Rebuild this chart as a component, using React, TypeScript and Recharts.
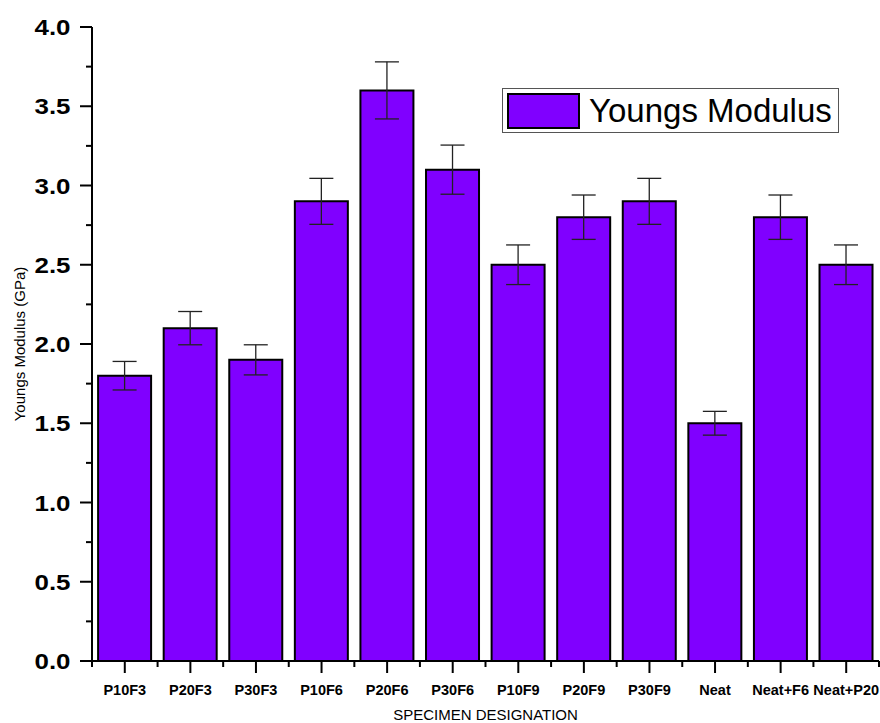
import { BarChart, Bar, XAxis, YAxis, ErrorBar, Legend } from "recharts";

const categories = [
  "P10F3",
  "P20F3",
  "P30F3",
  "P10F6",
  "P20F6",
  "P30F6",
  "P10F9",
  "P20F9",
  "P30F9",
  "Neat",
  "Neat+F6",
  "Neat+P20",
];
const modulus = [1.8, 2.1, 1.9, 2.9, 3.6, 3.1, 2.5, 2.8, 2.9, 1.5, 2.8, 2.5];
const modulusErr = [0.09, 0.105, 0.095, 0.145, 0.18, 0.155, 0.125, 0.14, 0.145, 0.075, 0.14, 0.125];
const yTicks = [0, 0.25, 0.5, 0.75, 1, 1.25, 1.5, 1.75, 2, 2.25, 2.5, 2.75, 3, 3.25, 3.5, 3.75, 4];

const data = categories.map((name, i) => ({
  name,
  value: modulus[i],
  err: modulusErr[i],
}));

const W = 880;
const H = 723;
const LEFT = 92;
const RIGHT = 1;
const BAND = (W - LEFT - RIGHT) / categories.length;
const FONT = "'Liberation Sans', Arial, Helvetica, sans-serif";
const PURPLE = "#8000FF";

function YTick(props: any) {
  const { x, y, payload } = props;
  const major = Math.abs(payload.value * 2 - Math.round(payload.value * 2)) < 1e-6;
  const axisX = x + 21;
  return (
    <g>
      <line x1={axisX - (major ? 12 : 6)} x2={axisX} y1={y} y2={y} stroke="#000" strokeWidth={2} />
      {major && (
        <text
          x={x - 0.5}
          y={y + 8}
          textAnchor="end"
          fontFamily={FONT}
          fontWeight="bold"
          fontSize={22}
          textLength={36}
          lengthAdjust="spacingAndGlyphs"
          fill="#000"
        >
          {payload.value.toFixed(1)}
        </text>
      )}
    </g>
  );
}

function XTick(props: any) {
  const { x, y, payload, index } = props;
  const axisY = y - 21;
  return (
    <g>
      <line x1={x} x2={x} y1={axisY} y2={axisY + 12} stroke="#000" strokeWidth={2} />
      <line x1={x - BAND / 2} x2={x - BAND / 2} y1={axisY} y2={axisY + 6} stroke="#000" strokeWidth={2} />
      {index === categories.length - 1 && (
        <line x1={x + BAND / 2} x2={x + BAND / 2} y1={axisY} y2={axisY + 6} stroke="#000" strokeWidth={2} />
      )}
      <text
        x={x}
        y={y + 13}
        textAnchor="middle"
        fontFamily={FONT}
        fontWeight="bold"
        fontSize={14.5}
        fill="#000"
      >
        {payload.value}
      </text>
    </g>
  );
}

function YTitle(props: any) {
  const { viewBox } = props;
  const cy = viewBox.y + viewBox.height / 2;
  return (
    <text
      x={25}
      y={cy}
      transform={`rotate(-90, 25, ${cy})`}
      textAnchor="middle"
      fontFamily={FONT}
      fontSize={15}
      fill="#000"
    >
      Youngs Modulus (GPa)
    </text>
  );
}

function XTitle(props: any) {
  const { viewBox } = props;
  return (
    <text
      x={viewBox.x + viewBox.width / 2}
      y={viewBox.y + viewBox.height - 3}
      textAnchor="middle"
      fontFamily={FONT}
      fontSize={15}
      fill="#000"
    >
      SPECIMEN DESIGNATION
    </text>
  );
}

function LegendBox() {
  return (
    <div
      style={{
        boxSizing: "border-box",
        width: 337,
        height: 45,
        border: "1.5px solid #555",
        background: "#fff",
        display: "flex",
        alignItems: "center",
        fontFamily: FONT,
      }}
    >
      <span
        style={{
          display: "inline-block",
          boxSizing: "border-box",
          width: 73,
          height: 36,
          marginLeft: 4,
          background: PURPLE,
          border: "2px solid #000",
        }}
      />
      <span style={{ marginLeft: 9, fontSize: 33, lineHeight: 1, color: "#000" }}>
        Youngs Modulus
      </span>
    </div>
  );
}

export default function App() {
  return (
    <div style={{ position: "absolute", left: 0, top: 0, width: W, height: H, background: "#fff" }}>
      <BarChart
        width={W}
        height={H}
        data={data}
        margin={{ top: 27, right: RIGHT, left: 0, bottom: 0 }}
        barCategoryGap="9.3%"
      >
        <XAxis
          dataKey="name"
          height={62}
          interval={0}
          tickSize={12}
          tickMargin={9}
          tickLine={false}
          tick={<XTick />}
          axisLine={{ stroke: "#000", strokeWidth: 2 }}
          label={<XTitle />}
        />
        <XAxis
          xAxisId="top"
          dataKey="name"
          orientation="top"
          height={0}
          tick={false}
          tickLine={false}
          axisLine={{ stroke: "#000", strokeWidth: 2 }}
        />
        <YAxis
          domain={[0, 4]}
          ticks={yTicks}
          width={LEFT}
          tickSize={12}
          tickMargin={9}
          tickLine={false}
          tick={<YTick />}
          interval={0}
          axisLine={{ stroke: "#000", strokeWidth: 2 }}
          label={<YTitle />}
        />
        <YAxis
          yAxisId="right"
          orientation="right"
          domain={[0, 4]}
          width={0}
          tick={false}
          tickLine={false}
          axisLine={{ stroke: "#000", strokeWidth: 2 }}
        />
        <Legend
          layout="vertical"
          align="center"
          verticalAlign="middle"
          content={<LegendBox />}
          wrapperStyle={{ position: "absolute", left: 502, top: 88, width: 337, height: 45 }}
        />
        <Bar
          dataKey="value"
          name="Youngs Modulus"
          fill={PURPLE}
          stroke="#000"
          strokeWidth={2}
          isAnimationActive={false}
        >
          <ErrorBar dataKey="err" width={12} stroke="#222" strokeWidth={1.3} isAnimationActive={false} />
        </Bar>
      </BarChart>
    </div>
  );
}
